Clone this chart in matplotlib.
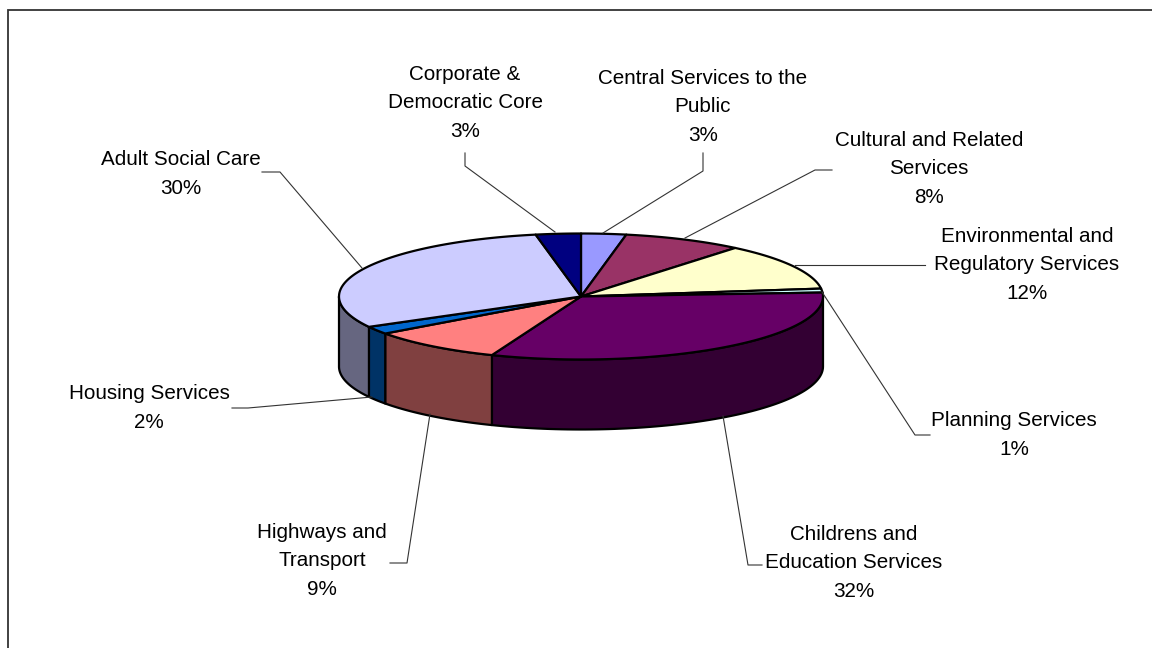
import numpy as np
import matplotlib
matplotlib.use("Agg")
import matplotlib.pyplot as plt

#chart data, clockwise from 12 o'clock
categories = ["Central Services to the\nPublic", "Cultural and Related\nServices",
              "Environmental and\nRegulatory Services", "Planning Services",
              "Childrens and\nEducation Services", "Highways and\nTransport",
              "Housing Services", "Adult Social Care", "Corporate &\nDemocratic Core"]
shares = [3, 8, 12, 1, 32, 9, 2, 30, 3]

top_colors = ["#9999FF", "#993366", "#FFFFCC", "#CCFFFF", "#660066",
              "#FF8080", "#0066CC", "#CCCCFF", "#000080"]
side_colors = ["#4D4D80", "#4D1A33", "#808066", "#668080", "#330033",
               "#804040", "#003366", "#666680", "#000040"]

#label centres and leader lines, in pixels
label_xy = [(703, 107), (929, 169), (1027, 265), (1014, 435), (854, 563),
            (322, 561), (149, 408), (181, 174), (465, 103)]
leaders = [[(603, 233), (703, 171), (703, 153)],
           [(685, 238), (815, 170), (832, 170)],
           [(795, 265), (925, 265)],
           [(822, 292), (915, 435), (930, 435)],
           [(723, 416), (748, 565), (762, 565)],
           [(430, 414), (407, 563), (390, 563)],
           [(372, 397), (248, 408), (232, 408)],
           [(362, 268), (280, 172), (262, 172)],
           [(555, 232), (465, 166), (465, 153)]]

cx, cy = 581, 296.5
rx, ry = 242, 63
depth = 70


def ellipse_points(start, end, n=80):
    #angles are clockwise from the top of the pie, in radians
    t = np.linspace(start, end, n)
    return cx + rx * np.sin(t), cy - ry * np.cos(t)


plt.rcParams["font.family"] = ["Liberation Sans", "DejaVu Sans"]
fig = plt.figure(figsize=(11.52, 6.48), dpi=100)
ax = fig.add_axes([0, 0, 1, 1])
ax.set_xlim(0, 1152)
ax.set_ylim(648, 0)
ax.axis("off")

#frame: only the top and left edges are inside the picture
ax.plot([1152, 8, 8], [10, 10, 648], color="#333333", lw=1.3, solid_joinstyle="miter")

#slice boundaries from the shares
edges = 2 * np.pi * np.cumsum([0] + shares) / sum(shares)

#outer wall, only the front half of the pie shows
for i in range(len(shares)):
    start = max(edges[i], np.pi / 2)
    end = min(edges[i + 1], 3 * np.pi / 2)
    if end <= start:
        continue
    x, y = ellipse_points(start, end)
    ax.fill(np.r_[x, x[::-1]], np.r_[y, y[::-1] + depth], facecolor=side_colors[i],
            edgecolor="black", lw=1.6, joinstyle="round")

#top face
for i in range(len(shares)):
    x, y = ellipse_points(edges[i], edges[i + 1])
    ax.fill(np.r_[cx, x], np.r_[cy, y], facecolor=top_colors[i],
            edgecolor="black", lw=1.6, joinstyle="round")

for line in leaders:
    xs, ys = zip(*line)
    ax.plot(xs, ys, color="#333333", lw=0.8, zorder=1)

for name, share, (x, y) in zip(categories, shares, label_xy):
    ax.text(x, y, f"{name}\n{share}%", ha="center", va="center", fontsize=14.9,
            linespacing=1.63, color="black")

fig.savefig("out.png", dpi=100)
